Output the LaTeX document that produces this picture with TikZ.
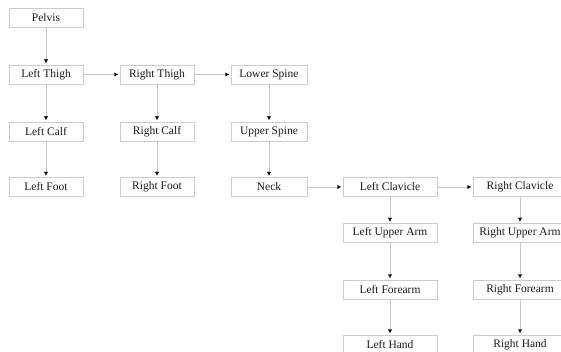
\documentclass[tikz,border=0pt]{standalone}
\usepackage{fontspec}
\setmainfont{Liberation Serif}
\usetikzlibrary{arrows.meta,positioning}

\tikzset{
  bone/.style={draw=black!20, thin, minimum height=19, inner sep=0pt, text=black!90, font=\fontsize{11.5}{13}\selectfont},
  link/.style={draw=black!22, thin, -{Latex[black, length=4pt, width=4pt]}, shorten >=1.5pt}
}

\begin{document}
\begin{tikzpicture}[x=1pt, y=-1pt]
  \useasboundingbox (0,0) rectangle (561,352);

  % Hips and legs
  \node[bone, minimum width=74] (pelvis) at (46,18) {Pelvis};
  \node[bone, minimum width=74] (lthigh) at (46,74.5) {Left Thigh};
  \node[bone, minimum width=74] (lcalf) at (46,131.5) {Left Calf};
  \node[bone, minimum width=74] (lfoot) at (46,187) {Left Foot};
  \node[bone, minimum width=74] (rthigh) at (157,74.5) {Right Thigh};
  \node[bone, minimum width=74] (rcalf) at (157,131.5) {Right Calf};
  \node[bone, minimum width=74] (rfoot) at (157,187) {Right Foot};

  % Spine
  \node[bone, minimum width=76] (lspine) at (269,74.5) {Lower Spine};
  \node[bone, minimum width=76] (uspine) at (269,131.5) {Upper Spine};
  \node[bone, minimum width=76] (neck) at (269,187) {Neck};

  % Left arm
  \node[bone, minimum width=94] (lclav) at (390,187) {Left Clavicle};
  \node[bone, minimum width=94] (luarm) at (390,233) {Left Upper Arm};
  \node[bone, minimum width=94] (lfarm) at (390,289.5) {Left Forearm};
  \node[bone, minimum width=94] (lhand) at (390,344.5) {Left Hand};

  % Right arm
  \node[bone, minimum width=94] (rclav) at (520,187) {Right Clavicle};
  \node[bone, minimum width=94] (ruarm) at (520,233) {Right Upper Arm};
  \node[bone, minimum width=94] (rfarm) at (520,289.5) {Right Forearm};
  \node[bone, minimum width=94] (rhand) at (520,344.5) {Right Hand};

  % Connections
  \draw[link] (pelvis) -- (lthigh);
  \draw[link] (lthigh) -- (lcalf);
  \draw[link] (lcalf) -- (lfoot);
  \draw[link] (lthigh) -- (rthigh);
  \draw[link] (rthigh) -- (rcalf);
  \draw[link] (rcalf) -- (rfoot);
  \draw[link] (rthigh) -- (lspine);
  \draw[link] (lspine) -- (uspine);
  \draw[link] (uspine) -- (neck);
  \draw[link] (neck) -- (lclav);
  \draw[link] (lclav) -- (luarm);
  \draw[link] (luarm) -- (lfarm);
  \draw[link] (lfarm) -- (lhand);
  \draw[link] (lclav) -- (rclav);
  \draw[link] (rclav) -- (ruarm);
  \draw[link] (ruarm) -- (rfarm);
  \draw[link] (rfarm) -- (rhand);

\end{tikzpicture}
\end{document}
